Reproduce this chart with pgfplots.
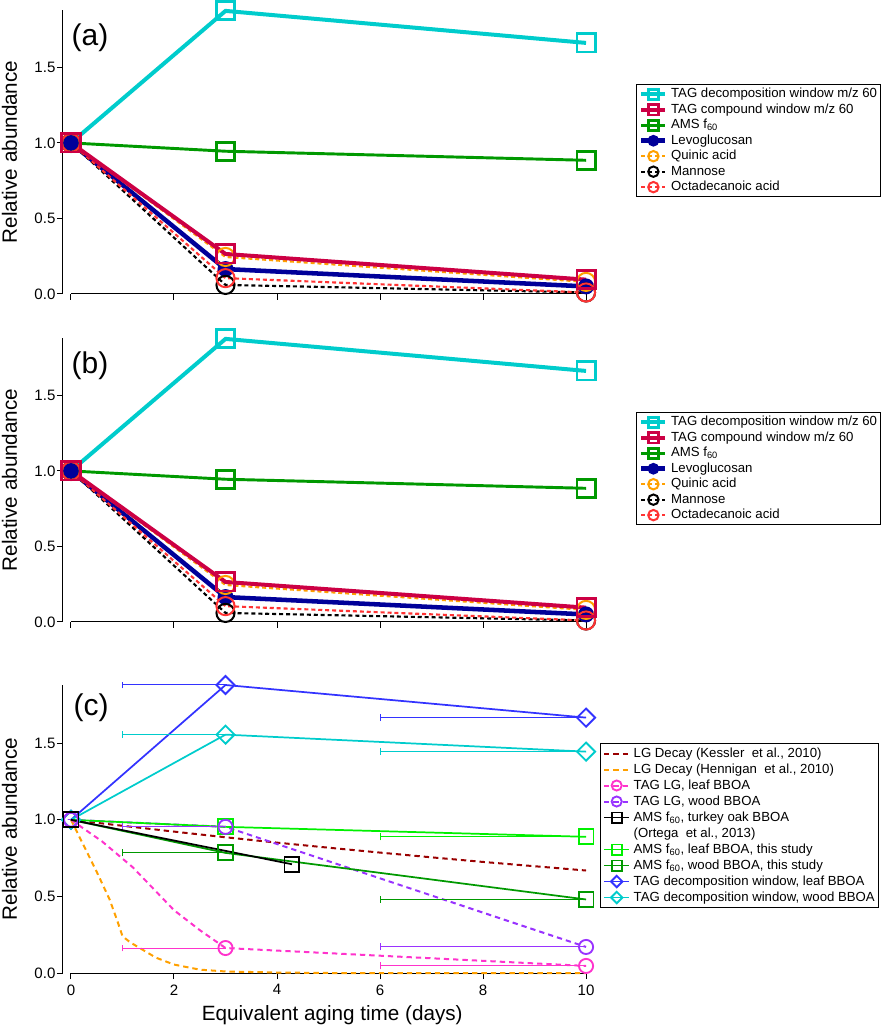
\documentclass[border=0pt]{standalone}
\usepackage{fontspec}
\setmainfont{Liberation Sans}
\usepackage{pgfplots}
\pgfplotsset{compat=1.18}

\definecolor{tcyan}{RGB}{0,204,204}
\definecolor{tcrim}{RGB}{204,0,68}
\definecolor{tgreen}{RGB}{0,153,0}
\definecolor{tnavy}{RGB}{0,0,153}
\definecolor{torange}{RGB}{255,160,0}
\definecolor{tred}{RGB}{255,51,51}
\definecolor{cdred}{RGB}{153,0,0}
\definecolor{cmag}{RGB}{255,51,204}
\definecolor{cpurp}{RGB}{153,51,255}
\definecolor{cgreenl}{RGB}{0,240,0}
\definecolor{cgreen}{RGB}{0,153,0}
\definecolor{cblue}{RGB}{51,51,255}
\definecolor{ccyan}{RGB}{0,204,204}

\pgfplotsset{
  panel/.style={
    scale only axis, width=403.875pt,
    xmin=-0.155, xmax=10.3, ymin=0, ymax=1.88,
    axis x line*=bottom, axis y line*=left,
    x axis line style={draw=none},
    y axis line style={line width=0.75pt},
    xtick={0,2,4,6,8,10},
    ytick={0,0.5,1,1.5}, yticklabels={0.0,0.5,1.0,1.5},
    tick align=outside, major tick length=4.5pt,
    every tick/.style={black, line width=0.75pt},
    ticklabel style={font=\fontsize{11.3}{13}\selectfont},
    yticklabel style={inner xsep=1pt},
    xticklabel style={inner ysep=0pt, yshift=-4pt},
    /pgf/number format/assume math mode=true,
    ylabel={Relative abundance},
    every axis y label/.style={at={(axis description cs:-0.0993,0.5)}, rotate=90, anchor=center, font=\fontsize{15.5}{17}\selectfont},
    clip=false,
    legend cell align=left,
  },
  legA/.style={
    legend style={at={(axis description cs:1.064,0.739)}, anchor=north west,
      font=\fontsize{9.9}{11}\selectfont, draw=black, line width=0.75pt, fill=white,
      inner xsep=2pt, inner ysep=1.5pt, row sep=0pt, column sep=2pt,
      nodes={inner sep=0.6pt, text height=7.8pt, text depth=2.6pt}},
    legend image code/.code={\draw[mark repeat=2,mark phase=2,##1,mark size=3.9pt] plot coordinates {(0pt,0pt) (9pt,0pt) (18pt,0pt)};},
  },
  sA/.style={tcyan, line width=3pt, mark=square, mark size=6.8pt, mark options={solid, line width=2.2pt}},
  sB/.style={tcrim, line width=3pt, mark=square, mark size=6.8pt, mark options={solid, line width=2.2pt}},
  sC/.style={tgreen, line width=2.2pt, mark=square, mark size=6.8pt, mark options={solid, line width=2.2pt}},
  sD/.style={tnavy, line width=3.4pt, mark=*, mark size=5.5pt, mark options={solid, line width=1pt}},
  sE/.style={torange, line width=1.6pt, dash pattern=on 3pt off 2.2pt, mark=o, mark size=6.8pt, mark options={solid, line width=1.5pt}},
  sF/.style={black, line width=1.6pt, dash pattern=on 3pt off 2.2pt, mark=o, mark size=6.8pt, mark options={solid, line width=1.5pt}},
  sG/.style={tred, line width=1.6pt, dash pattern=on 3pt off 2.2pt, mark=o, mark size=6.8pt, mark options={solid, line width=1.5pt}},
  ebar/.style={error bars/.cd, x dir=minus, x explicit,
    error bar style={line width=0.75pt, solid},
    error mark=|, error mark options={line width=0.75pt, solid, mark size=2.6pt}, /pgfplots/.cd},
  cKes/.style={cdred, line width=1.5pt, dash pattern=on 4pt off 3pt},
  cHen/.style={torange, line width=1.5pt, dash pattern=on 4pt off 3pt},
  cMagL/.style={cmag, line width=1.5pt, dash pattern=on 4pt off 3pt},
  cPurL/.style={cpurp, line width=1.5pt, dash pattern=on 4pt off 3pt},
  cMagM/.style={cmag, mark=o, mark size=5.3pt, mark options={solid, line width=1.4pt}},
  cPurM/.style={cpurp, mark=o, mark size=5.3pt, mark options={solid, line width=1.4pt}},
  cOrt/.style={black, line width=1.3pt, mark=square, mark size=5.6pt, mark options={solid, line width=1.4pt}},
  cGlL/.style={cgreenl, line width=1.3pt},
  cGlM/.style={cgreenl, mark=square, mark size=5.6pt, mark options={solid, line width=1.4pt}},
  cGwL/.style={cgreen, line width=1.3pt},
  cGwM/.style={cgreen, mark=square, mark size=5.6pt, mark options={solid, line width=1.4pt}},
  cBlL/.style={cblue, line width=1.3pt},
  cBlM/.style={cblue, mark=square, mark size=6pt, mark options={solid, line width=1.4pt, rotate=45, scale=0.8}},
  cCyL/.style={ccyan, line width=1.3pt},
  cCyM/.style={ccyan, mark=square, mark size=6pt, mark options={solid, line width=1.4pt, rotate=45, scale=0.8}},
}

\pgfplotstableread{
x y
0 1
3 1.874
10 1.662
}\tagdec
\pgfplotstableread{
x y
0 1
3 0.265
10 0.095
}\tagcomp
\pgfplotstableread{
x y
0 1
3 0.945
10 0.885
}\amsf
\pgfplotstableread{
x y
0 1
3 0.165
10 0.05
}\levo
\pgfplotstableread{
x y
0 1
3 0.245
10 0.08
}\quinic
\pgfplotstableread{
x y
0 1
3 0.06
10 0.01
}\mannose
\pgfplotstableread{
x y
0 1
3 0.105
10 0.01
}\octa

\newcommand{\panelAB}[2]{%
\begin{axis}[panel, legA, height=213pt, at={(47.25pt,#1)}, anchor=south west, xticklabels={}]
\draw[line width=0.75pt] (axis cs:0,0) -- (axis cs:10,0);
\addplot[sA] table {\tagdec}; \addlegendentry{TAG decomposition window m/z 60}
\addlegendimage{sB}\addlegendentry{TAG compound window m/z 60}
\addplot[sC] table {\amsf}; \addlegendentry{AMS f\textsubscript{60}}
\addplot[sD] table {\levo}; \addlegendentry{Levoglucosan}
\addplot[sE] table {\quinic}; \addlegendentry{Quinic acid}
\addplot[sF] table {\mannose}; \addlegendentry{Mannose}
\addplot[sG] table {\octa}; \addlegendentry{Octadecanoic acid}
\addplot[sB, forget plot] table {\tagcomp};
\node[font=\fontsize{22.5}{26}\selectfont] at (axis description cs:0.05,0.901) {#2};
\end{axis}}

\begin{document}
\begin{tikzpicture}
\path[use as bounding box] (0,0) rectangle (664.5pt,770.25pt);

\panelAB{549.75pt}{(a)}
\panelAB{303.75pt}{(b)}

% ---------------- (c) ----------------
\begin{axis}[panel, height=216pt, at={(47.25pt,40.5pt)}, anchor=south west,
  xticklabels={0,2,4,6,8,10},
  xlabel={Equivalent aging time (days)},
  every axis x label/.style={at={(axis description cs:0.5,-0.146)}, anchor=center, font=\fontsize{15.5}{17}\selectfont},
  legend style={at={(axis description cs:0.9972,0.7986)}, anchor=north west,
      font=\fontsize{9.9}{11}\selectfont, draw=black, line width=0.75pt, fill=white,
      inner xsep=2pt, inner ysep=1.5pt, row sep=0pt, column sep=2pt,
      nodes={inner sep=0.6pt, text height=8.1pt, text depth=2.7pt}},
  legend image code/.code={\draw[mark repeat=2,mark phase=2,#1,mark size=3.8pt] plot coordinates {(0pt,0pt) (9.4pt,0pt) (18.8pt,0pt)};},
]
\draw[line width=0.75pt] (axis cs:0,0) -- (axis cs:10,0);
% lines
\addplot[cKes, forget plot] coordinates {(0,1)(1,0.961)(2,0.923)(3,0.886)(4,0.851)(5,0.818)(6,0.786)(7,0.755)(8,0.725)(9,0.697)(10,0.669)};
\addplot[cHen, forget plot] coordinates {(0,1)(0.25,0.83)(0.5,0.66)(0.75,0.48)(0.9,0.34)(1.0,0.24)(1.15,0.2)(1.35,0.16)(1.65,0.1)(2,0.055)(2.5,0.022)(3,0.01)(4,0.003)(5,0)(10,0)};
\addplot[cMagL, forget plot] coordinates {(0,1)(0.6,0.86)(1.2,0.69)(2,0.41)(2.5,0.28)(3,0.163)(10,0.046)};
\addplot[cPurL, forget plot] coordinates {(0,1)(3,0.954)(10,0.17)};
\addplot[cGlL, forget plot] coordinates {(0,1)(3,0.954)(10,0.889)};
\addplot[cGwL, forget plot] coordinates {(0,1)(3,0.784)(10,0.48)};
\addplot[cBlL, forget plot] coordinates {(0,1)(3,1.88)(10,1.667)};
\addplot[cCyL, forget plot] coordinates {(0,1)(3,1.556)(10,1.445)};
% markers with horizontal error bars
\addplot[forget plot, cBlM, only marks, ebar] table[row sep=\\, x error=ex] {x y ex\\ 0 1 0\\ 3 1.88 2\\ 10 1.667 4\\};
\addplot[forget plot, cCyM, only marks, ebar] table[row sep=\\, x error=ex] {x y ex\\ 0 1 0\\ 3 1.556 2\\ 10 1.445 4\\};
\addplot[forget plot, cGwM, only marks, ebar] table[row sep=\\, x error=ex] {x y ex\\ 0 1 0\\ 3 0.784 2\\ 10 0.48 4\\};
\addplot[forget plot, cGlM, only marks, ebar] table[row sep=\\, x error=ex] {x y ex\\ 0 1 0\\ 3 0.954 2\\ 10 0.889 4\\};
\addplot[forget plot, cMagM, only marks, ebar] table[row sep=\\, x error=ex] {x y ex\\ 0 1 0\\ 3 0.163 2\\ 10 0.046 4\\};
\addplot[forget plot, cPurM, only marks, ebar] table[row sep=\\, x error=ex] {x y ex\\ 0 1 0\\ 3 0.954 2\\ 10 0.17 4\\};
\addplot[cOrt, forget plot] coordinates {(0,1)(4.29,0.71)};
% legend
\addlegendimage{cKes}\addlegendentry{LG Decay (Kessler\ \ et al., 2010)}
\addlegendimage{cHen}\addlegendentry{LG Decay (Hennigan\ \ et al., 2010)}
\addlegendimage{cMagL, mark=o, mark options={solid, line width=1.4pt}}\addlegendentry{TAG LG, leaf BBOA}
\addlegendimage{cPurL, mark=o, mark options={solid, line width=1.4pt}}\addlegendentry{TAG LG, wood BBOA}
\addlegendimage{cOrt}\addlegendentry{AMS f\textsubscript{60}, turkey oak BBOA}
\addlegendimage{empty legend}\addlegendentry{(Ortega\ \ et al., 2013)}
\addlegendimage{cGlL, mark=square, mark options={solid, line width=1.4pt}}\addlegendentry{AMS f\textsubscript{60}, leaf BBOA, this study}
\addlegendimage{cGwL, mark=square, mark options={solid, line width=1.4pt}}\addlegendentry{AMS f\textsubscript{60}, wood BBOA, this study}
\addlegendimage{cBlL, mark=square, mark options={solid, line width=1.4pt, rotate=45, scale=0.8}}\addlegendentry{TAG decomposition window, leaf BBOA}
\addlegendimage{cCyL, mark=square, mark options={solid, line width=1.4pt, rotate=45, scale=0.8}}\addlegendentry{TAG decomposition window, wood BBOA}
\node[font=\fontsize{22.5}{26}\selectfont] at (axis description cs:0.052,0.92) {(c)};
\end{axis}
\end{tikzpicture}
\end{document}
